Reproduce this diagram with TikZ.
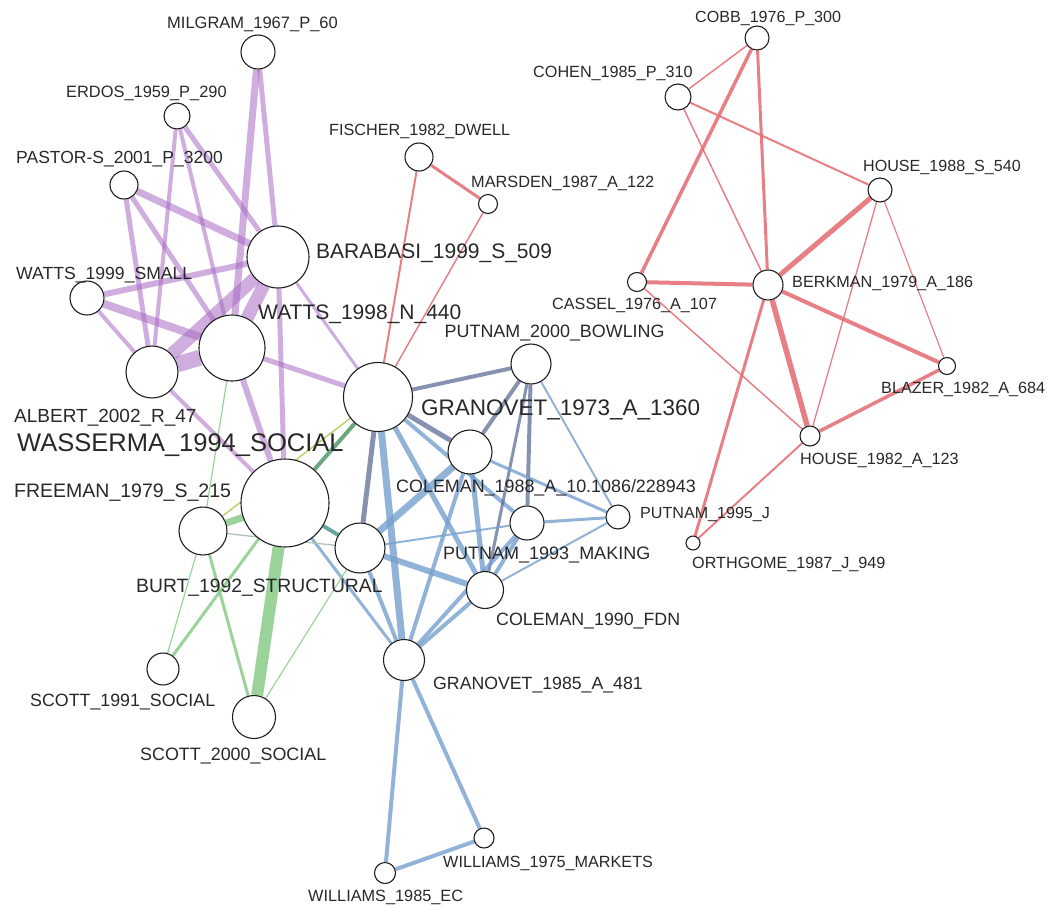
\documentclass[tikz,border=0pt]{standalone}
\usepackage{fontspec}
\setmainfont{Liberation Sans}
\definecolor{pur}{RGB}{168,105,195}
\definecolor{redc}{RGB}{228,105,112}
\definecolor{bluc}{RGB}{118,160,205}
\definecolor{drkc}{RGB}{95,108,150}
\definecolor{grnc}{RGB}{130,200,130}
\definecolor{dgrn}{RGB}{70,145,95}
\definecolor{ygrn}{RGB}{185,212,110}
\definecolor{tealc}{RGB}{75,150,145}
\definecolor{greyg}{RGB}{175,195,175}
\definecolor{labc}{RGB}{40,40,40}
\definecolor{ringc}{RGB}{30,30,30}
\pgfdeclarelayer{bg}
\pgfsetlayers{bg,main}
\begin{document}
\begin{tikzpicture}[x=1pt,y=-1pt,
  nd/.style={circle, draw=ringc, fill=white, line width=1.1pt, inner sep=0pt, minimum size=#1},
  lb/.style={anchor=base west, inner sep=0pt, text=labc, font=\fontsize{#1}{#1}\selectfont},
  epur/.style={draw=pur, draw opacity=0.55, line width=#1},
  ered/.style={draw=redc, draw opacity=0.85, line width=#1},
  eblu/.style={draw=bluc, draw opacity=0.8, line width=#1},
  edrk/.style={draw=drkc, draw opacity=0.75, line width=#1},
  egrn/.style={draw=grnc, draw opacity=0.8, line width=#1}]
\useasboundingbox (0,0) rectangle (1048,905);
% nodes
\node[nd=34pt] (MIL) at (258,52) {};
\node[nd=26pt] (ERD) at (177,116) {};
\node[nd=28pt] (PAS) at (124,185) {};
\node[nd=62pt] (BAR) at (278,257) {};
\node[nd=34pt] (W99) at (87,298) {};
\node[nd=66pt] (W98) at (232,348) {};
\node[nd=52pt] (ALB) at (152,372) {};
\node[nd=88pt] (WAS) at (285,503) {};
\node[nd=48pt] (FRE) at (203,531) {};
\node[nd=50pt] (BUR) at (360,548) {};
\node[nd=69pt] (G73) at (378,397) {};
\node[nd=40pt] (P00) at (531,364) {};
\node[nd=44pt] (C88) at (470,452) {};
\node[nd=34pt] (P93) at (527,523) {};
\node[nd=24pt] (P95) at (618,517) {};
\node[nd=37pt] (C90) at (485,590) {};
\node[nd=41pt] (G85) at (404,660) {};
\node[nd=32pt] (S91) at (163,669) {};
\node[nd=43pt] (S00) at (254,717) {};
\node[nd=20pt] (W75) at (484,838) {};
\node[nd=21pt] (W85) at (385,873) {};
\node[nd=28pt] (FIS) at (419,157) {};
\node[nd=19pt] (MAR) at (488,204) {};
\node[nd=24pt] (COB) at (757,38) {};
\node[nd=26pt] (COH) at (678,97) {};
\node[nd=24pt] (H88) at (880,190) {};
\node[nd=30pt] (BER) at (768,285) {};
\node[nd=19pt] (CAS) at (637,282) {};
\node[nd=17pt] (BLA) at (947,366) {};
\node[nd=20pt] (H82) at (810,436) {};
\node[nd=14pt] (ORT) at (693,543) {};
% labels
\node[lb=16.5] (lMIL) at (167,28) {MILGRAM\_1967\_P\_60};
\node[lb=16.4] (lERD) at (66,97) {ERDOS\_1959\_P\_290};
\node[lb=17.5] (lPAS) at (16,163) {PASTOR-S\_2001\_P\_3200};
\node[lb=17.6] (lW99) at (16,279) {WATTS\_1999\_SMALL};
\node[lb=21] (lBAR) at (316,258) {BARABASI\_1999\_S\_509};
\node[lb=21] (lW98) at (258,319) {WATTS\_1998\_N\_440};
\node[lb=19] (lALB) at (14,422) {ALBERT\_2002\_R\_47};
\node[lb=25.5] (lWAS) at (17,451) {WASSERMA\_1994\_SOCIAL};
\node[lb=19.5] (lFRE) at (14,497) {FREEMAN\_1979\_S\_215};
\node[lb=19.3] (lBUR) at (136,592) {BURT\_1992\_STRUCTURAL};
\node[lb=22.5] (lG73) at (421,415) {GRANOVET\_1973\_A\_1360};
\node[lb=17.9] (lP00) at (444.5,337) {PUTNAM\_2000\_BOWLING};
\node[lb=17.9] (lC88) at (396,492) {COLEMAN\_1988\_A\_10.1086/228943};
\node[lb=18] (lP93) at (443,559) {PUTNAM\_1993\_MAKING};
\node[lb=17.8] (lC90) at (496,625) {COLEMAN\_1990\_FDN};
\node[lb=16.1] (lP95) at (640,518) {PUTNAM\_1995\_J};
\node[lb=17.7] (lG85) at (433,689) {GRANOVET\_1985\_A\_481};
\node[lb=17.8] (lS91) at (30,706) {SCOTT\_1991\_SOCIAL};
\node[lb=17.9] (lS00) at (140,760) {SCOTT\_2000\_SOCIAL};
\node[lb=16.2] (lW75) at (443,867) {WILLIAMS\_1975\_MARKETS};
\node[lb=16.3] (lW85) at (308,901.5) {WILLIAMS\_1985\_EC};
\node[lb=16.2] (lFIS) at (329,135) {FISCHER\_1982\_DWELL};
\node[lb=16.3] (lMAR) at (471,187) {MARSDEN\_1987\_A\_122};
\node[lb=16.1] (lCOB) at (695,22) {COBB\_1976\_P\_300};
\node[lb=16.2] (lCOH) at (533,77) {COHEN\_1985\_P\_310};
\node[lb=16.1] (lH88) at (863,171) {HOUSE\_1988\_S\_540};
\node[lb=16.2] (lBER) at (792,287) {BERKMAN\_1979\_A\_186};
\node[lb=16.2] (lCAS) at (552,309) {CASSEL\_1976\_A\_107};
\node[lb=16.2] (lBLA) at (881,393) {BLAZER\_1982\_A\_684};
\node[lb=16.2] (lH82) at (800,464) {HOUSE\_1982\_A\_123};
\node[lb=16.2] (lORT) at (692,568) {ORTHGOME\_1987\_J\_949};
% edges
\begin{pgfonlayer}{bg}
% purple
\draw[epur=7] (MIL) -- (W98);
\draw[epur=5] (MIL) -- (BAR);
\draw[epur=5] (ERD) -- (BAR);
\draw[epur=4] (ERD) -- (W98);
\draw[epur=4] (ERD) -- (ALB);
\draw[epur=7] (PAS) -- (BAR);
\draw[epur=5] (PAS) -- (W98);
\draw[epur=5] (PAS) -- (ALB);
\draw[epur=6] (W99) -- (BAR);
\draw[epur=8] (W99) -- (W98);
\draw[epur=4] (W99) -- (ALB);
\draw[epur=13] (ALB) -- (BAR);
\draw[epur=16] (ALB) -- (W98);
\draw[epur=13] (BAR) -- (W98);
\draw[epur=5] (BAR) -- (WAS);
\draw[epur=6] (W98) -- (WAS);
\draw[epur=4] (ALB) -- (WAS);
\draw[epur=3] (BAR) -- (G73);
\draw[epur=5] (W98) -- (G73);
% red
\draw[ered=1.5] (COB) -- (COH);
\draw[ered=3.5] (COB) -- (CAS);
\draw[ered=3] (COB) -- (BER);
\draw[ered=2] (COH) -- (H88);
\draw[ered=1.5] (COH) -- (BER);
\draw[ered=5] (H88) -- (BER);
\draw[ered=1.3] (H88) -- (H82);
\draw[ered=1.2] (H88) -- (BLA);
\draw[ered=4] (CAS) -- (BER);
\draw[ered=1.5] (CAS) -- (H82);
\draw[ered=4] (BER) -- (BLA);
\draw[ered=5.5] (BER) -- (H82);
\draw[ered=3] (BER) -- (ORT);
\draw[ered=3.5] (BLA) -- (H82);
\draw[ered=2] (H82) -- (ORT);
\draw[ered=3] (FIS) -- (MAR);
\draw[ered=2] (FIS) -- (G73);
\draw[ered=1.5] (MAR) -- (G73);
% blue
\draw[edrk=4] (G73) -- (P00);
\draw[edrk=5] (G73) -- (C88);
\draw[edrk=5] (G73) -- (BUR);
\draw[eblu=7] (G73) -- (G85);
\draw[eblu=5] (G73) -- (C90);
\draw[eblu=4] (G73) -- (P93);
\draw[edrk=4] (P00) -- (C88);
\draw[edrk=4] (P00) -- (P93);
\draw[edrk=3] (P00) -- (C90);
\draw[eblu=2] (P00) -- (P95);
\draw[eblu=7] (C88) -- (BUR);
\draw[eblu=4] (C88) -- (G85);
\draw[eblu=5] (C88) -- (C90);
\draw[eblu=3] (C88) -- (P95);
\draw[eblu=2] (BUR) -- (P93);
\draw[eblu=6] (BUR) -- (C90);
\draw[eblu=4] (BUR) -- (G85);
\draw[eblu=4] (P93) -- (G85);
\draw[eblu=4] (P93) -- (C90);
\draw[eblu=3] (P93) -- (P95);
\draw[eblu=2] (P95) -- (C90);
\draw[eblu=4] (C90) -- (G85);
\draw[eblu=4] (G85) -- (W85);
\draw[eblu=4] (G85) -- (W75);
\draw[eblu=4] (W85) -- (W75);
\draw[eblu=3] (WAS) -- (G85);
% green
\draw[egrn=12] (WAS) -- (S00);
\draw[egrn=7] (WAS) -- (FRE);
\draw[egrn=3] (WAS) -- (S91);
\draw[egrn=3] (FRE) -- (S00);
\draw[egrn=1.2] (FRE) -- (S91);
\draw[egrn=1.2] (BUR) -- (S00);
\draw[egrn=1.2] (W98) -- (FRE);
\draw[draw=greyg, line width=1.3] (FRE) -- (BUR);
\draw[draw=dgrn, draw opacity=0.8, line width=4] (WAS) -- (G73);
\draw[draw=ygrn, line width=1.5] (G73) -- (FRE);
\draw[draw=tealc, draw opacity=0.85, line width=4] (WAS) -- (BUR);
\end{pgfonlayer}
\end{tikzpicture}
\end{document}
